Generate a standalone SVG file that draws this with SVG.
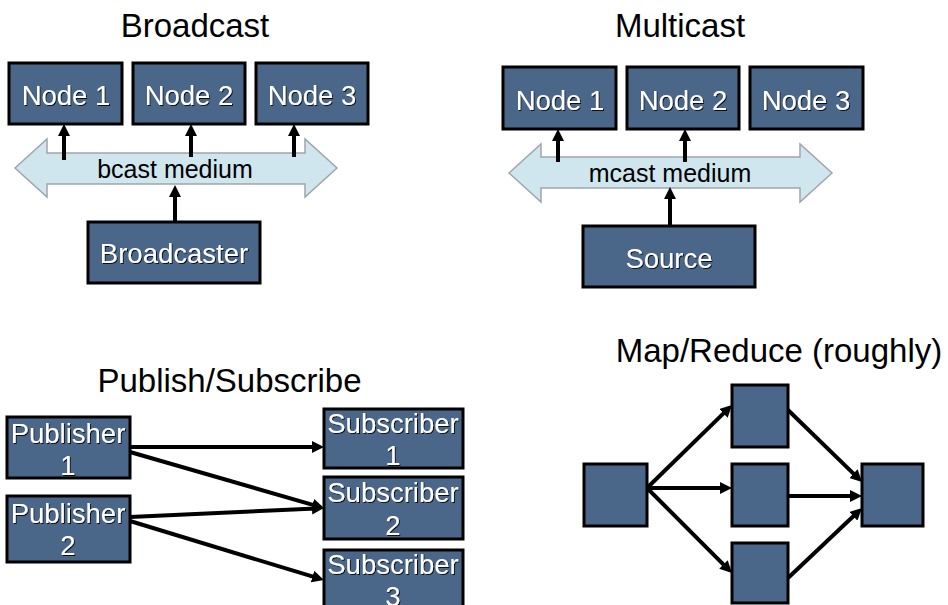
<svg xmlns="http://www.w3.org/2000/svg" width="948" height="605" viewBox="0 0 948 605">
<style>
.title{font-family:"Liberation Sans",Arial,sans-serif;font-size:33px;fill:#000;text-anchor:middle}
.box{fill:#4a6789;stroke:#000;stroke-width:3}
.lbl{font-family:"Liberation Sans",Arial,sans-serif;font-size:27.5px;fill:#fff;text-anchor:middle;filter:url(#sh)}
.med{fill:#cfe6ef;stroke:#9ea6aa;stroke-width:1.5}
.medt{font-family:"Liberation Sans",Arial,sans-serif;font-size:25px;fill:#000;text-anchor:middle}
.c{stroke:#000;stroke-width:4;fill:none;marker-end:url(#ah)}
</style>
<defs>
<marker id="ah" viewBox="0 0 12 12" refX="4" refY="6" markerWidth="12" markerHeight="12" markerUnits="userSpaceOnUse" orient="auto">
<path d="M0,0 L12,6 L0,12 Z" fill="#000"/>
</marker>
<filter id="sh" x="-10%" y="-20%" width="120%" height="140%">
<feDropShadow dx="1" dy="1" stdDeviation="0.4" flood-color="#000" flood-opacity="0.85"/>
</filter>
</defs>
<rect width="948" height="605" fill="#fff"/>

<text class="title" x="195" y="37">Broadcast</text>
<text class="title" x="680" y="37">Multicast</text>
<text class="title" x="229.5" y="392">Publish/Subscribe</text>
<text class="title" x="779" y="362">Map/Reduce (roughly)</text>

<g id="bcast-medium">
<path class="med" d="M15,168 L47,139 L47,153 L305,153 L305,139 L337,168 L305,197 L305,184 L47,184 L47,197 Z"/>
<text class="medt" x="175" y="178">bcast medium</text>
</g>
<g id="mcast-medium">
<path class="med" d="M509,173 L541,144 L541,157 L800,157 L800,144 L832,173 L800,202 L800,188 L541,188 L541,202 Z"/>
<text class="medt" x="670" y="182">mcast medium</text>
</g>

<g id="b-node1"><rect class="box" x="9" y="63" width="113" height="61"/><text class="lbl" x="66" y="105">Node 1</text></g>
<g id="b-node2"><rect class="box" x="133" y="63" width="112" height="61"/><text class="lbl" x="189" y="105">Node 2</text></g>
<g id="b-node3"><rect class="box" x="256" y="63" width="112" height="61"/><text class="lbl" x="312" y="105">Node 3</text></g>
<g id="broadcaster"><rect class="box" x="88" y="222" width="172" height="61"/><text class="lbl" x="174" y="263">Broadcaster</text></g>

<g id="m-node1"><rect class="box" x="503" y="67" width="113" height="62"/><text class="lbl" x="560" y="110">Node 1</text></g>
<g id="m-node2"><rect class="box" x="627" y="67" width="112" height="62"/><text class="lbl" x="683" y="110">Node 2</text></g>
<g id="m-node3"><rect class="box" x="750" y="67" width="113" height="62"/><text class="lbl" x="806" y="110">Node 3</text></g>
<g id="source"><rect class="box" x="583" y="226" width="172" height="61"/><text class="lbl" x="669" y="268">Source</text></g>

<g id="publisher1"><rect class="box" x="7" y="417" width="123" height="61"/><text class="lbl" x="68" y="443">Publisher</text><text class="lbl" x="68" y="475">1</text></g>
<g id="publisher2"><rect class="box" x="7" y="496" width="123" height="66"/><text class="lbl" x="68" y="523">Publisher</text><text class="lbl" x="68" y="555">2</text></g>
<g id="subscriber1"><rect class="box" x="324" y="409" width="139" height="59"/><text class="lbl" x="393" y="433">Subscriber</text><text class="lbl" x="393" y="465">1</text></g>
<g id="subscriber2"><rect class="box" x="324" y="477" width="139" height="62"/><text class="lbl" x="393" y="502">Subscriber</text><text class="lbl" x="393" y="535">2</text></g>
<g id="subscriber3"><rect class="box" x="324" y="550" width="139" height="62"/><text class="lbl" x="393" y="574">Subscriber</text><text class="lbl" x="393" y="606">3</text></g>

<g id="mr-in"><rect class="box" x="584" y="464" width="63" height="62"/></g>
<g id="mr-map1"><rect class="box" x="732" y="385" width="56" height="62"/></g>
<g id="mr-map2"><rect class="box" x="732" y="464" width="56" height="62"/></g>
<g id="mr-map3"><rect class="box" x="732" y="543" width="56" height="60"/></g>
<g id="mr-out"><rect class="box" x="862" y="464" width="61" height="62"/></g>

<g id="connectors">
<line class="c" x1="64" y1="160" x2="64" y2="132"/>
<line class="c" x1="191" y1="157" x2="191" y2="132"/>
<line class="c" x1="294" y1="157" x2="294" y2="132"/>
<line class="c" x1="175" y1="222" x2="175" y2="193"/>
<line class="c" x1="558" y1="162" x2="558" y2="137"/>
<line class="c" x1="685" y1="162" x2="685" y2="137"/>
<line class="c" x1="670" y1="226" x2="670" y2="195"/>
<line class="c" x1="130" y1="447" x2="316" y2="447"/>
<line class="c" x1="130" y1="452" x2="316.3" y2="505.8"/>
<line class="c" x1="130" y1="517" x2="316" y2="508.4"/>
<line class="c" x1="130" y1="521" x2="316.3" y2="577.7"/>
<line class="c" x1="647" y1="488" x2="726.3" y2="410.6"/>
<line class="c" x1="647" y1="488" x2="724" y2="488"/>
<line class="c" x1="647" y1="488" x2="726.3" y2="567.3"/>
<line class="c" x1="788" y1="410" x2="856.3" y2="476.4"/>
<line class="c" x1="788" y1="496" x2="854" y2="496"/>
<line class="c" x1="788" y1="578" x2="856.2" y2="513.5"/>
</g>
</svg>
